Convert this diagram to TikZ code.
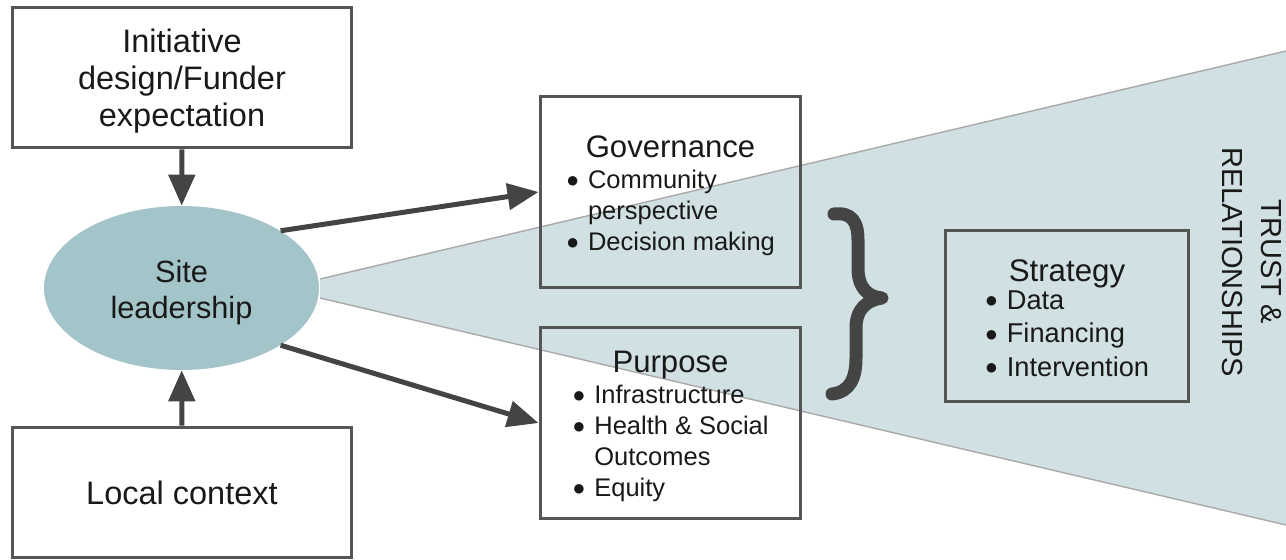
\documentclass[tikz,border=0pt]{standalone}
\usepackage{fontspec}
\setmainfont{Liberation Sans}
\usetikzlibrary{arrows.meta, shapes.geometric, positioning}
\definecolor{conefill}{HTML}{D1E0E3}
\definecolor{siteblue}{HTML}{A3C4C9}
\definecolor{arrgrey}{HTML}{444444}
\definecolor{boxgrey}{HTML}{555555}
\definecolor{edgegrey}{HTML}{A9A9A9}
\newcommand{\bul}{\makebox[0.44cm][l]{\raisebox{0.05em}{\fontsize{12.5}{13}\selectfont ●}}}
\newcommand{\nobul}{\hspace*{0.44cm}}
% move the contents of a node down without changing its size
\newcommand{\sinkby}[2]{\raisebox{-#1}[\height][\depth]{#2}}

\begin{document}
\begin{tikzpicture}[x=0.02cm, y=-0.02cm,
    box/.style={draw=boxgrey, line width=1.7pt, inner sep=0pt, align=center, text=black!90},
    arr/.style={draw=arrgrey, line width=0.1cm, -{Triangle[length=0.62cm, width=0.52cm]}},
    bigfont/.style={font=\fontsize{18.5}{21}\selectfont},
    listfont/.style={font=\fontsize{14.5}{17.6}\selectfont}]
    \useasboundingbox (0,0) rectangle (1286,560);
    % the cone behind everything
    \fill[conefill] (320,279) -- (1286,51) -- (1286,525) -- (320,298) -- cycle;
    \draw[edgegrey, line width=0.8pt] (320,279) -- (1286,51);
    \draw[edgegrey, line width=0.8pt] (320,298) -- (1286,525);
    % left column
    \node[box, bigfont, minimum width=6.8cm, minimum height=2.82cm] (init) at (182,77.5)
        {\sinkby{0.09cm}{\begin{tabular}{@{}c@{}}Initiative\\design/Funder\\expectation\end{tabular}}};
    \node[box, bigfont, minimum width=6.8cm, minimum height=2.62cm] (local) at (182,492.5)
        {Local context};
    \node[ellipse, fill=siteblue, minimum width=5.5cm, minimum height=3.28cm, inner sep=0pt,
        align=center, text=black!90, font=\fontsize{17.5}{20.4}\selectfont] (site) at (181.5,288)
        {\sinkby{0.1cm}{\begin{tabular}{@{}c@{}}Site\\leadership\end{tabular}}};
    % middle boxes
    \node[box, listfont, minimum width=5.22cm, minimum height=3.84cm] (gov) at (670.5,192) {%
        \sinkby{0.12cm}{\begin{tabular}{@{}l@{}}
        \multicolumn{1}{@{}c@{}}{\fontsize{17.7}{21}\selectfont Governance}\\[0pt]
        \bul Community\\
        \nobul perspective\\
        \bul Decision making
        \end{tabular}}};
    \node[box, listfont, minimum width=5.22cm, minimum height=3.84cm] (purp) at (670.5,423) {%
        \sinkby{0.11cm}{\begin{tabular}{@{}l@{}}
        \multicolumn{1}{@{}c@{}}{\fontsize{17.7}{21}\selectfont Purpose}\\[0pt]
        \bul Infrastructure\\
        \bul Health \& Social\\
        \nobul Outcomes\\
        \bul Equity
        \end{tabular}}};
    \node[box, font=\fontsize{15.5}{19}\selectfont, minimum width=4.88cm, minimum height=3.44cm] (strat) at (1067,316) {%
        \sinkby{0.12cm}{\begin{tabular}{@{}l@{}}
        \multicolumn{1}{@{}c@{}}{\fontsize{17.8}{21}\selectfont Strategy}\\[-3pt]
        \bul Data\\
        \bul Financing\\
        \bul Intervention
        \end{tabular}}};
    \node[rotate=-90, align=center, text=black!90, font=\fontsize{16.5}{22}\selectfont] (trust) at (1252,262)
        {TRUST \&\\RELATIONSHIPS};
    % brace
    \draw[arrgrey, line width=0.26cm, line cap=round, line join=round]
        (834,214) .. controls (852,212) and (858,222) .. (858,240) -- (858,268)
        .. controls (858,288) and (868,297) .. (882,298)
        .. controls (868,300) and (856,308) .. (856,328) -- (856,358)
        .. controls (856,378) and (850,392) .. (832,394);
    % arrows
    \draw[arr] (init) -- (site);
    \draw[arr] (local) -- (site);
    \draw[arr] (site.30) -- (gov.west);
    \draw[arr] (site.-30) -- (purp.west);
\end{tikzpicture}
\end{document}
